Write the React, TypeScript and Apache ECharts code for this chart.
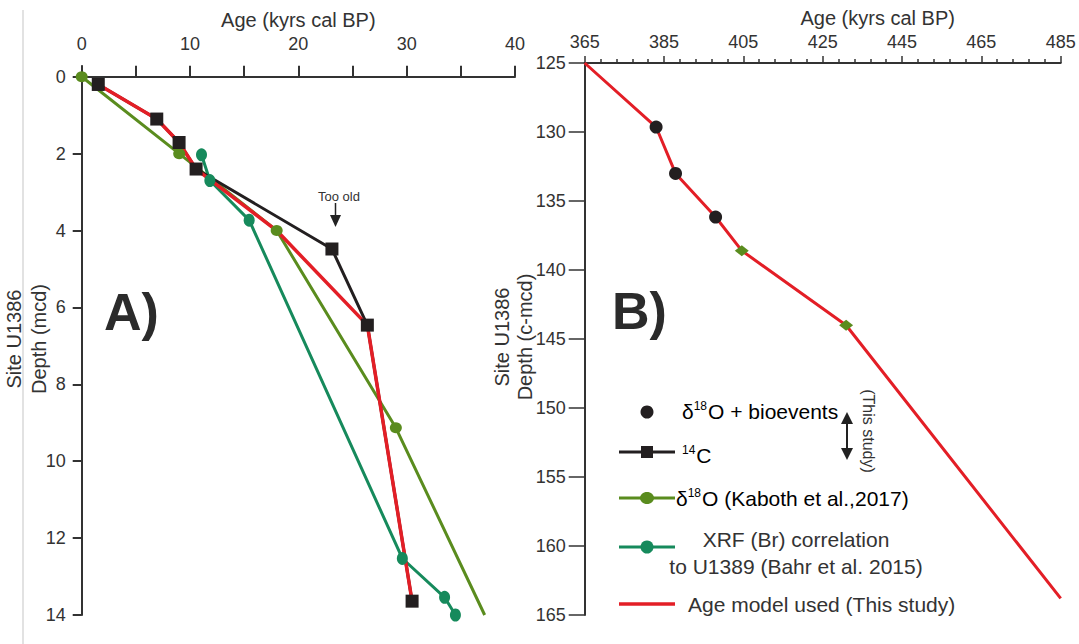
import React, { useEffect, useRef } from "react";
import * as echarts from "echarts";

// ---------- Panel A data (age kyrs cal BP, depth mcd) ----------
const c14Age = [1.53, 6.93, 8.99, 10.56, 23.1, 26.37, 30.5];
const c14Depth = [0.2, 1.1, 1.71, 2.4, 4.48, 6.46, 13.64];
const kabothAge = [0, 9.0, 18.0, 29.0, 37.2];
const kabothDepth = [0, 2.0, 4.0, 9.13, 14.0];
const xrfAge = [11.06, 11.83, 15.46, 29.6, 33.5, 34.5];
const xrfDepth = [2.03, 2.7, 3.73, 12.53, 13.54, 14.0];
const modelAAge = [1.53, 6.93, 8.99, 10.56, 18.0, 26.37, 30.5];
const modelADepth = [0.2, 1.1, 1.71, 2.4, 4.0, 6.46, 13.64];

// ---------- Panel B data (age kyrs cal BP, depth c-mcd) ----------
const modelBAge = [365, 383.0, 387.9, 398.0, 404.6, 430.9, 485];
const modelBDepth = [125, 129.64, 133.0, 136.16, 138.6, 144.0, 163.8];
const bioAge = [383.0, 387.9, 398.0];
const bioDepth = [129.64, 133.0, 136.16];
const kabothBAge = [404.6, 430.9];
const kabothBDepth = [138.6, 144.0];

// ---------- Tick values ----------
const ageATicks = [0, 5, 10, 15, 20, 25, 30, 35, 40];
const ageALabels = [0, 10, 20, 30, 40];
const depthATicks = [0, 2, 4, 6, 8, 10, 12, 14];

const RED = "#e31e26";
const BLACK = "#231f20";
const OLIVE = "#5a8c1e";
const TEAL = "#168a5c";
const TXT = "#333333";
const FONT = "'Liberation Sans', Arial, sans-serif";

const zip = (a: number[], b: number[]) => a.map((v, i) => [v, b[i]]);

export default function App() {
  const ref = useRef<HTMLDivElement>(null);
  useEffect(() => {
    if (!ref.current) return;
    const chart = echarts.init(ref.current, undefined, { renderer: "svg" });
    const axisLine = { show: true, lineStyle: { color: "#333", width: 2 } };
    const kabothData: any[] = zip(kabothAge, kabothDepth).map((p, i) =>
      i === kabothAge.length - 1 ? { value: p, symbol: "none" } : p
    );
    const rich = {
      n: { fontSize: 21, fontFamily: FONT, color: TXT },
      s: { fontSize: 12, fontFamily: FONT, color: TXT, verticalAlign: "top" as const, padding: [0, 1, 10, 0] },
    };
    const option: any = {
      animation: false,
      textStyle: { fontFamily: FONT },
      grid: [
        { left: 81.7, top: 66, width: 433.3, height: 549, outerBoundsMode: "none", containLabel: false },
        { left: 584.7, top: 63, width: 476, height: 552, outerBoundsMode: "none", containLabel: false },
      ],
      xAxis: [
        {
          gridIndex: 0,
          type: "value",
          position: "top",
          min: 0,
          max: 40,
          axisLine,
          axisTick: { show: true, customValues: ageATicks, length: 11, lineStyle: { color: "#333", width: 2 } },
          axisLabel: { customValues: ageALabels, fontSize: 18, margin: 13, color: TXT, fontFamily: FONT },
          splitLine: { show: false },
          name: "Age (kyrs cal BP)",
          nameLocation: "middle",
          nameGap: 34,
          nameTextStyle: { fontSize: 20, color: TXT, fontFamily: FONT },
        },
        {
          gridIndex: 1,
          type: "value",
          position: "top",
          min: 365,
          max: 485,
          interval: 20,
          axisLine,
          axisTick: { show: true, length: 7, lineStyle: { color: "#333", width: 1.5 } },
          minorTick: { show: true, splitNumber: 5, length: 4, lineStyle: { color: "#333", width: 1.5 } },
          axisLabel: { fontSize: 18, margin: 12, color: TXT, fontFamily: FONT },
          splitLine: { show: false },
          minorSplitLine: { show: false },
          name: "Age (kyrs cal BP)",
          nameLocation: "middle",
          nameGap: 31,
          nameTextStyle: { fontSize: 20, color: TXT, fontFamily: FONT, padding: [0, 0, 0, 110] },
        },
      ],
      yAxis: [
        {
          gridIndex: 0,
          type: "value",
          inverse: true,
          min: -0.28,
          max: 14,
          splitNumber: 7,
          axisLine,
          axisTick: { show: true, customValues: depthATicks, length: 9, lineStyle: { color: "#333", width: 2 } },
          axisLabel: { customValues: depthATicks, fontSize: 18, margin: 16, color: TXT, fontFamily: FONT },
          splitLine: { show: false },
        },
        {
          gridIndex: 1,
          type: "value",
          inverse: true,
          min: 125,
          max: 165,
          interval: 5,
          axisLine,
          axisTick: { show: true, length: 16, lineStyle: { color: "#333", width: 1.5 } },
          axisLabel: { fontSize: 18, margin: 19, color: TXT, fontFamily: FONT },
          splitLine: { show: false },
        },
      ],
      series: [
        {
          name: "δ18O (Kaboth et al.,2017)",
          type: "line",
          xAxisIndex: 0,
          yAxisIndex: 0,
          data: kabothData,
          clip: false,
          symbol: "circle",
          symbolSize: [12, 11],
          lineStyle: { color: OLIVE, width: 3 },
          itemStyle: { color: OLIVE, opacity: 1 },
        },
        {
          name: "XRF (Br) correlation",
          type: "line",
          xAxisIndex: 0,
          yAxisIndex: 0,
          data: zip(xrfAge, xrfDepth),
          clip: false,
          symbol: "circle",
          symbolSize: [11, 13],
          lineStyle: { color: TEAL, width: 3 },
          itemStyle: { color: TEAL, opacity: 1 },
        },
        {
          name: "14C",
          type: "line",
          xAxisIndex: 0,
          yAxisIndex: 0,
          data: zip(c14Age, c14Depth),
          clip: false,
          symbol: "none",
          lineStyle: { color: BLACK, width: 3 },
        },
        {
          name: "Age model A",
          type: "line",
          xAxisIndex: 0,
          yAxisIndex: 0,
          data: zip(modelAAge, modelADepth),
          clip: false,
          symbol: "none",
          lineStyle: { color: RED, width: 3.5 },
        },
        {
          name: "14C points",
          type: "scatter",
          xAxisIndex: 0,
          yAxisIndex: 0,
          data: zip(c14Age, c14Depth),
          symbol: "rect",
          symbolSize: 13,
          itemStyle: { color: BLACK, opacity: 1 },
          z: 5,
        },
        {
          name: "Age model B",
          type: "line",
          xAxisIndex: 1,
          yAxisIndex: 1,
          data: zip(modelBAge, modelBDepth),
          clip: false,
          symbol: "none",
          lineStyle: { color: RED, width: 3 },
        },
        {
          name: "δ18O + bioevents",
          type: "scatter",
          xAxisIndex: 1,
          yAxisIndex: 1,
          data: zip(bioAge, bioDepth),
          symbol: "circle",
          symbolSize: 13,
          itemStyle: { color: BLACK, opacity: 1 },
          z: 5,
        },
        {
          name: "δ18O Kaboth B",
          type: "scatter",
          xAxisIndex: 1,
          yAxisIndex: 1,
          data: zip(kabothBAge, kabothBDepth),
          symbol: "diamond",
          symbolSize: [14, 11],
          itemStyle: { color: OLIVE, opacity: 1 },
          z: 5,
        },
      ],
      graphic: [
        { type: "line", shape: { x1: 23, y1: 10, x2: 23, y2: 644 }, style: { stroke: "#e2e2e2", lineWidth: 2 }, silent: true, z: -1 },
        {
          type: "text",
          x: 26,
          y: 339,
          rotation: Math.PI / 2,
          style: { text: "Site U1386\nDepth (mcd)", font: `20px ${FONT}`, fill: TXT, align: "center", verticalAlign: "middle", lineHeight: 25 },
        },
        {
          type: "text",
          x: 513,
          y: 337,
          rotation: Math.PI / 2,
          style: { text: "Site U1386\nDepth (c-mcd)", font: `20px ${FONT}`, fill: TXT, align: "center", verticalAlign: "middle", lineHeight: 23 },
        },
        { type: "text", x: 104, y: 312, style: { text: "A)", font: `bold 52px ${FONT}`, fill: "#2b2b2b", verticalAlign: "middle" } },
        { type: "text", x: 612, y: 311, style: { text: "B)", font: `bold 52px ${FONT}`, fill: "#2b2b2b", verticalAlign: "middle" } },
        { type: "text", x: 339, y: 196, style: { text: "Too old", font: `13px ${FONT}`, fill: TXT, align: "center", verticalAlign: "middle" } },
        { type: "line", shape: { x1: 335.5, y1: 203, x2: 335.5, y2: 218 }, style: { stroke: "#222", lineWidth: 1.5 } },
        { type: "polygon", shape: { points: [[330, 215], [341, 215], [335.5, 227]] }, style: { fill: "#222" } },
        // legend
        { type: "circle", shape: { cx: 647, cy: 412, r: 6.5 }, style: { fill: BLACK } },
        { type: "text", x: 682, y: 411, style: { text: "{n|δ}{s|18}{n|O + bioevents}", rich, verticalAlign: "middle" } },
        { type: "line", shape: { x1: 619, y1: 452, x2: 675, y2: 452 }, style: { stroke: BLACK, lineWidth: 3 } },
        { type: "rect", shape: { x: 641, y: 446, width: 12, height: 12 }, style: { fill: BLACK } },
        { type: "text", x: 682, y: 455, style: { text: "{s|14}{n|C}", rich, verticalAlign: "middle" } },
        { type: "line", shape: { x1: 619, y1: 498, x2: 675, y2: 498 }, style: { stroke: OLIVE, lineWidth: 3 } },
        { type: "ellipse", shape: { cx: 647, cy: 498, rx: 7, ry: 6 }, style: { fill: OLIVE } },
        { type: "text", x: 676, y: 498, style: { text: "{n|δ}{s|18}{n|O (Kaboth et al.,2017)}", rich, verticalAlign: "middle" } },
        { type: "line", shape: { x1: 619, y1: 547, x2: 675, y2: 547 }, style: { stroke: TEAL, lineWidth: 3 } },
        { type: "circle", shape: { cx: 647, cy: 547, r: 6.5 }, style: { fill: TEAL } },
        {
          type: "text",
          x: 796,
          y: 553,
          style: {
            text: "XRF (Br) correlation\nto U1389 (Bahr et al. 2015)",
            font: `21px ${FONT}`,
            fill: TXT,
            align: "center",
            verticalAlign: "middle",
            lineHeight: 27,
          },
        },
        { type: "line", shape: { x1: 619, y1: 604, x2: 675, y2: 604 }, style: { stroke: RED, lineWidth: 3.5 } },
        { type: "text", x: 688, y: 604, style: { text: "Age model used (This study)", font: `21px ${FONT}`, fill: TXT, verticalAlign: "middle" } },
        { type: "line", shape: { x1: 847, y1: 420, x2: 847, y2: 452 }, style: { stroke: "#222", lineWidth: 2 } },
        { type: "polygon", shape: { points: [[841, 424], [853, 424], [847, 412]] }, style: { fill: "#222" } },
        { type: "polygon", shape: { points: [[841, 448], [853, 448], [847, 460]] }, style: { fill: "#222" } },
        {
          type: "text",
          x: 868,
          y: 431,
          rotation: -Math.PI / 2,
          style: { text: "(This study)", font: `16px ${FONT}`, fill: TXT, align: "center", verticalAlign: "middle" },
        },
      ],
    };
    chart.setOption(option);
    return () => chart.dispose();
  }, []);
  return (
    <div
      ref={ref}
      style={{ position: "absolute", left: 0, top: 0, width: 1079, height: 644, background: "#fff" }}
    />
  );
}
